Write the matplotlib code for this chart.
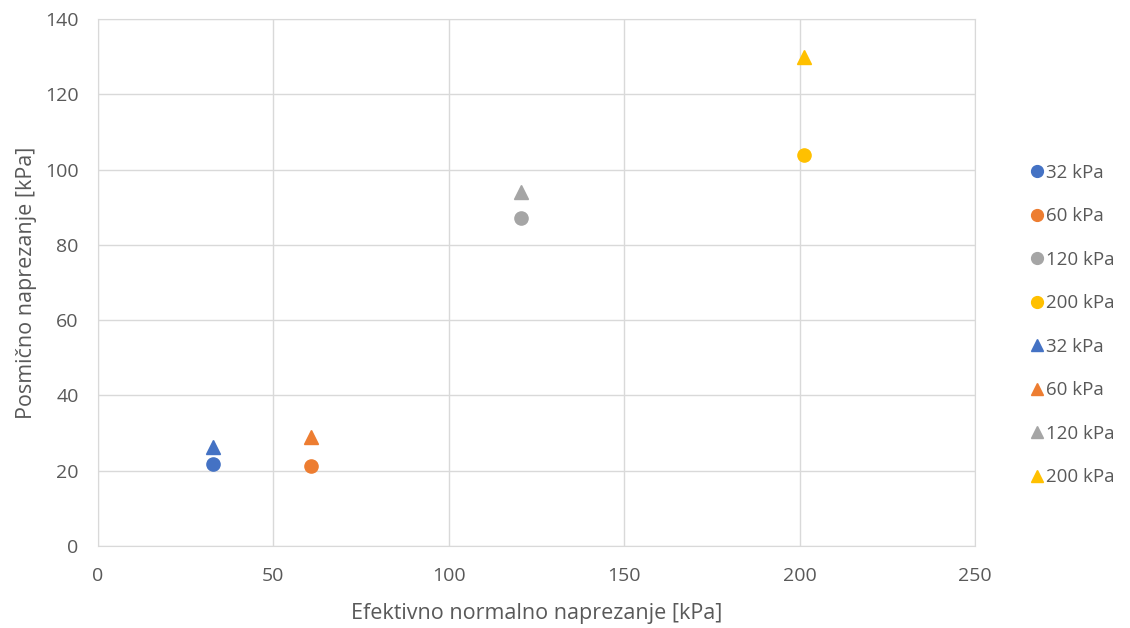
import matplotlib
matplotlib.use("Agg")
import matplotlib.pyplot as plt

labels = ["32 kPa", "60 kPa", "120 kPa", "200 kPa"]
colors = ["#4472C4", "#ED7D31", "#A5A5A5", "#FFC000"]
x_circ = [32.8, 60.8, 120.7, 201.2]
y_circ = [21.7, 21.3, 87.1, 103.9]
x_tri = [32.8, 60.8, 120.7, 201.2]
y_tri = [26.2, 29.0, 94.0, 130.0]

plt.rcParams['font.family'] = ['Open Sans', 'DejaVu Sans']
fig = plt.figure(figsize=(11.3, 6.28), dpi=100)
ax = fig.add_axes([0.0867, 0.1306, 0.7761, 0.8391])

handles = []
for xv, yv, c, l in zip(x_circ, y_circ, colors, labels):
    h, = ax.plot([xv], [yv], 'o', color=c, markersize=9.5, label=l, linestyle='none', zorder=3)
    handles.append(h)
for xv, yv, c, l in zip(x_tri, y_tri, colors, labels):
    h, = ax.plot([xv], [yv], '^', color=c, markersize=10, label=l, linestyle='none', zorder=3)
    handles.append(h)

ax.set_xlim(0, 250)
ax.set_ylim(0, 140)
ax.set_xticks(range(0, 251, 50))
ax.set_yticks(range(0, 141, 20))
ax.grid(True, color='#D9D9D9', linewidth=1)
ax.set_axisbelow(True)
for s in ax.spines.values():
    s.set_color('#D9D9D9')
ax.tick_params(length=0, colors='#595959', labelsize=14)
ax.tick_params(axis='x', pad=15)
ax.tick_params(axis='y', pad=14)
ax.set_xlabel("Efektivno normalno naprezanje [kPa]", color='#595959', fontsize=15.5, labelpad=13)
ax.set_ylabel("Posmično naprezanje [kPa]", color='#595959', fontsize=15.5, labelpad=6)

leg = fig.legend(handles=handles, loc='center left', bbox_to_anchor=(0.895, 0.4825),
                 frameon=False, fontsize=13.5, labelspacing=1.36, handletextpad=0.05,
                 handlelength=0.9, labelcolor='#595959')
for h in leg.legend_handles:
    h.set_markersize(8.5)

fig.savefig("out.png", dpi=100)
